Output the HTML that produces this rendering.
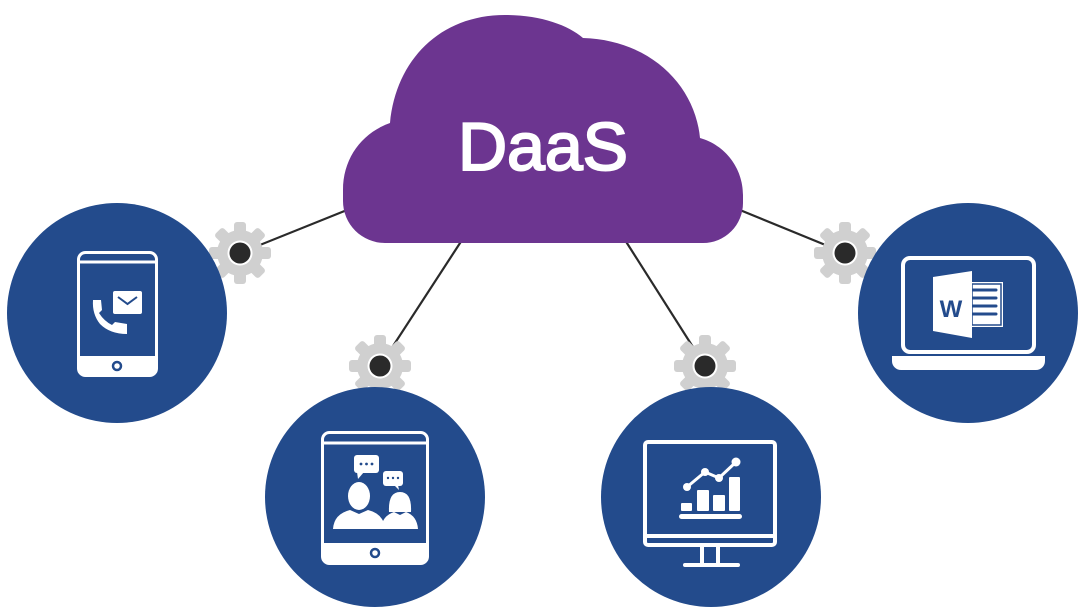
<!DOCTYPE html>
<html><head><meta charset="utf-8"><style>
html,body{margin:0;padding:0;background:#fff;width:1084px;height:616px;overflow:hidden}
</style></head><body>
<svg width="1084" height="616" viewBox="0 0 1084 616" xmlns="http://www.w3.org/2000/svg">
<defs>
<g id="gear">
  <circle r="23" fill="#d0d0d0"/>
  <g fill="#d0d0d0">
    <rect x="-6" y="-31" width="12" height="14" rx="3"/>
    <rect x="-6" y="-31" width="12" height="14" rx="3" transform="rotate(45)"/>
    <rect x="-6" y="-31" width="12" height="14" rx="3" transform="rotate(90)"/>
    <rect x="-6" y="-31" width="12" height="14" rx="3" transform="rotate(135)"/>
    <rect x="-6" y="-31" width="12" height="14" rx="3" transform="rotate(180)"/>
    <rect x="-6" y="-31" width="12" height="14" rx="3" transform="rotate(225)"/>
    <rect x="-6" y="-31" width="12" height="14" rx="3" transform="rotate(270)"/>
    <rect x="-6" y="-31" width="12" height="14" rx="3" transform="rotate(315)"/>
  </g>
  <circle r="12.5" fill="#fff"/>
  <circle r="10.5" fill="#2a2a2a"/>
</g>
</defs>

<!-- connectors -->
<g stroke="#2a2a2a" stroke-width="2.2">
  <line x1="352" y1="208" x2="240" y2="253"/>
  <line x1="462" y1="240" x2="380" y2="366"/>
  <line x1="625" y1="240" x2="705" y2="366"/>
  <line x1="735" y1="208" x2="845" y2="253"/>
</g>

<!-- cloud -->
<path fill="#6c3590" d="M385 243 A42 42 0 0 1 343 201 L343 190 C343 158 362 133 390 123 C396 60 440 15 505 15 C540 15 568 25 583 38 C650 40 695 85 700 138 C725 145 743 168 743 195 L743 203 A40 40 0 0 1 703 243 Z"/>
<text x="543" y="170" text-anchor="middle" font-family="Liberation Sans, sans-serif" font-size="68" font-weight="normal" stroke="#fff" stroke-width="2" fill="#fff">DaaS</text>

<!-- gears -->
<use href="#gear" x="240" y="253"/>
<use href="#gear" x="380" y="366"/>
<use href="#gear" x="705" y="366"/>
<use href="#gear" x="845" y="253"/>

<!-- circles -->
<g fill="#234b8c">
  <circle cx="117" cy="313" r="110"/>
  <circle cx="375" cy="497" r="110"/>
  <circle cx="711" cy="497" r="110"/>
  <circle cx="968" cy="313" r="110"/>
</g>

<!-- phone -->
<g>
  <rect x="78.5" y="252.5" width="78" height="123" rx="7" fill="none" stroke="#fff" stroke-width="3"/>
  <line x1="79" y1="262" x2="156" y2="262" stroke="#fff" stroke-width="3"/>
  <path d="M78 356 H157 V369 a7 7 0 0 1 -7 7 H85 a7 7 0 0 1 -7 -7 Z" fill="#fff"/>
  <circle cx="117" cy="366" r="4" fill="none" stroke="#234b8c" stroke-width="2.5"/>
  <rect x="113" y="291" width="29" height="23" rx="2" fill="#fff"/>
  <path d="M118 297 L127.5 304 L137 297" fill="none" stroke="#234b8c" stroke-width="2"/>
  <path d="M93 300 L101 300 L102 310 L99 313 Q104 321 112 325 L115 322 L127 324 L127 334 Q110 334 100 324 Q92 314 93 300 Z" fill="#fff"/>
</g>

<!-- tablet -->
<g>
  <rect x="322.5" y="432.5" width="105" height="131" rx="7" fill="none" stroke="#fff" stroke-width="3"/>
  <line x1="323" y1="443" x2="427" y2="443" stroke="#fff" stroke-width="3"/>
  <path d="M322 543 H428 V557 a7 7 0 0 1 -7 7 H329 a7 7 0 0 1 -7 -7 Z" fill="#fff"/>
  <circle cx="375" cy="553" r="4" fill="none" stroke="#234b8c" stroke-width="2.5"/>
  <rect x="354" y="455" width="25" height="18" rx="3" fill="#fff"/>
  <path d="M357 472 L358 479 L364 472 Z" fill="#fff"/>
  <g fill="#234b8c"><circle cx="361" cy="464" r="1.4"/><circle cx="366.5" cy="464" r="1.4"/><circle cx="372" cy="464" r="1.4"/></g>
  <rect x="383" y="471" width="20" height="15" rx="3" fill="#fff"/>
  <path d="M394 485 L399 490 L398 485 Z" fill="#fff"/>
  <g fill="#234b8c"><circle cx="388" cy="478" r="1.2"/><circle cx="393" cy="478" r="1.2"/><circle cx="398" cy="478" r="1.2"/></g>
  <ellipse cx="359" cy="496" rx="11" ry="14" fill="#fff"/>
  <path d="M333 529 Q334 514 350 510 L359 514 L368 510 Q384 514 385 529 Z" fill="#fff"/>
  <path d="M389 512 Q388 492 400 492 Q412 492 411 512 Z" fill="#fff"/>
  <path d="M381 529 Q382 516 394 512 L400 515 L406 512 Q417 516 418 529 Z" fill="#fff"/>
</g>

<!-- monitor -->
<g>
  <rect x="645" y="442" width="130" height="103" rx="3" fill="none" stroke="#fff" stroke-width="4"/>
  <line x1="645" y1="536" x2="775" y2="536" stroke="#fff" stroke-width="4"/>
  <rect x="700" y="545" width="4" height="19" fill="#fff"/>
  <rect x="716" y="545" width="4" height="19" fill="#fff"/>
  <rect x="683" y="563" width="57" height="4" rx="2" fill="#fff"/>
  <rect x="679" y="514" width="63" height="5" rx="2.5" fill="#fff"/>
  <rect x="681" y="503" width="11" height="8" rx="1" fill="#fff"/>
  <rect x="697" y="490" width="12" height="21" rx="1" fill="#fff"/>
  <rect x="713" y="495" width="12" height="16" rx="1" fill="#fff"/>
  <rect x="729" y="477" width="11" height="34" rx="1" fill="#fff"/>
  <polyline points="687,487 705,472 719,478 736,462" fill="none" stroke="#fff" stroke-width="3"/>
  <g fill="#fff"><circle cx="687" cy="487" r="4"/><circle cx="705" cy="472" r="4"/><circle cx="719" cy="478" r="4"/><circle cx="736" cy="462" r="4.5"/></g>
</g>

<!-- laptop -->
<g>
  <rect x="903" y="258" width="131" height="94" rx="7" fill="none" stroke="#fff" stroke-width="4"/>
  <path d="M892 356 H1045 V361 a9 9 0 0 1 -9 9 H901 a9 9 0 0 1 -9 -9 Z" fill="#fff"/>
  <rect x="970" y="282" width="33" height="45" fill="#fff"/>
  <rect x="972" y="284" width="29" height="41" fill="none" stroke="#234b8c" stroke-width="1.5"/>
  <g stroke="#234b8c" stroke-width="3" stroke-linecap="round">
    <line x1="973" y1="290" x2="996" y2="290"/>
    <line x1="973" y1="298" x2="996" y2="298"/>
    <line x1="973" y1="306" x2="996" y2="306"/>
    <line x1="973" y1="314" x2="996" y2="314"/>
  </g>
  <path d="M933 277 L972 271 L972 338 L933 331 Z" fill="#fff"/>
  <text x="951" y="317" text-anchor="middle" font-family="Liberation Sans, sans-serif" font-size="24" font-weight="bold" fill="#234b8c">W</text>
</g>
</svg>
</body></html>
